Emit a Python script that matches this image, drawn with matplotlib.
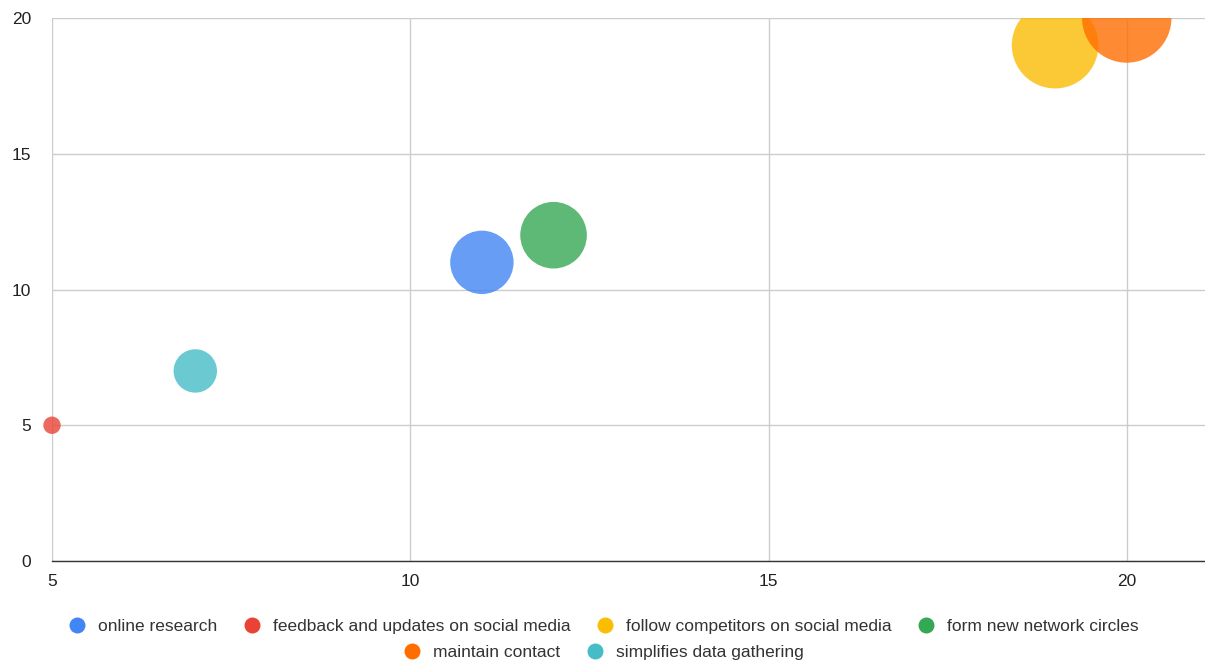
import matplotlib
matplotlib.use("Agg")
import matplotlib.pyplot as plt
from matplotlib.lines import Line2D
from matplotlib.patches import Rectangle

plt.rcParams['font.family'] = ['Liberation Sans', 'DejaVu Sans']

labels = ["online research", "feedback and updates on social media",
          "follow competitors on social media", "form new network circles",
          "maintain contact", "simplifies data gathering"]
x_vals = [11, 5, 19, 12, 20, 7]
y_vals = [11, 5, 19, 12, 20, 7]
bubble_size = [31.7, 8.7, 43.3, 33.3, 44.7, 21.7]   # relative bubble radius
colors = ["#4285F4", "#EA4335", "#FBBC04", "#34A853", "#FF6D01", "#46BDC6"]
x_ticks = [5, 10, 15, 20]
y_ticks = [0, 5, 10, 15, 20]

W, H, DPI = 1205, 662, 100
fig = plt.figure(figsize=(W / DPI, H / DPI), dpi=DPI)
ax = fig.add_axes([52 / W, 1 - 561 / H, (W - 52) / W, (561 - 18) / H])

px_to_pt = 72 / DPI
sizes = [(2 * r * px_to_pt) ** 2 for r in bubble_size]
sc = ax.scatter(x_vals, y_vals, s=sizes, c=colors, alpha=0.8, linewidths=0, zorder=3)
# clip only at the top of the plot area (bubbles may overflow left/right/bottom)
clip_rect = Rectangle((0, 0), 1, 1 - 18 / H, transform=fig.transFigure, facecolor="none")
sc.set_clip_path(clip_rect)

ax.set_xlim(5, 5 + (W - 52) / 71.65)
ax.set_ylim(0, 20)
ax.set_xticks(x_ticks)
ax.set_yticks(y_ticks)
ax.set_xticklabels([str(t) for t in x_ticks])
ax.set_yticklabels([str(t) for t in y_ticks])
ax.grid(True, color="#cccccc", linewidth=1, zorder=0)
ax.set_axisbelow(True)
for s in ["top", "right", "left"]:
    ax.spines[s].set_visible(False)
ax.spines["bottom"].set_color("#333333")
ax.spines["bottom"].set_linewidth(1)
ax.spines["bottom"].set_zorder(4)
ax.tick_params(axis="both", length=0, labelsize=12.5, labelcolor="#222222")
ax.tick_params(axis="y", pad=15)
ax.tick_params(axis="x", pad=9)

handles = [Line2D([0], [0], marker="o", linestyle="none", markersize=11.5,
                  markerfacecolor=c, markeredgewidth=0) for c in colors]
common = dict(frameon=False, fontsize=12.5, handletextpad=0.6, columnspacing=1.4,
              handlelength=1.2, labelcolor="#333333", borderpad=0)
leg1 = fig.legend(handles[:4], labels[:4], ncol=4, loc="center",
                  bbox_to_anchor=(0.5, 1 - 626 / H), **common)
leg2 = fig.legend(handles[4:], labels[4:], ncol=2, loc="center",
                  bbox_to_anchor=(0.5, 1 - 652 / H), **common)

fig.savefig("out.png", dpi=DPI)
